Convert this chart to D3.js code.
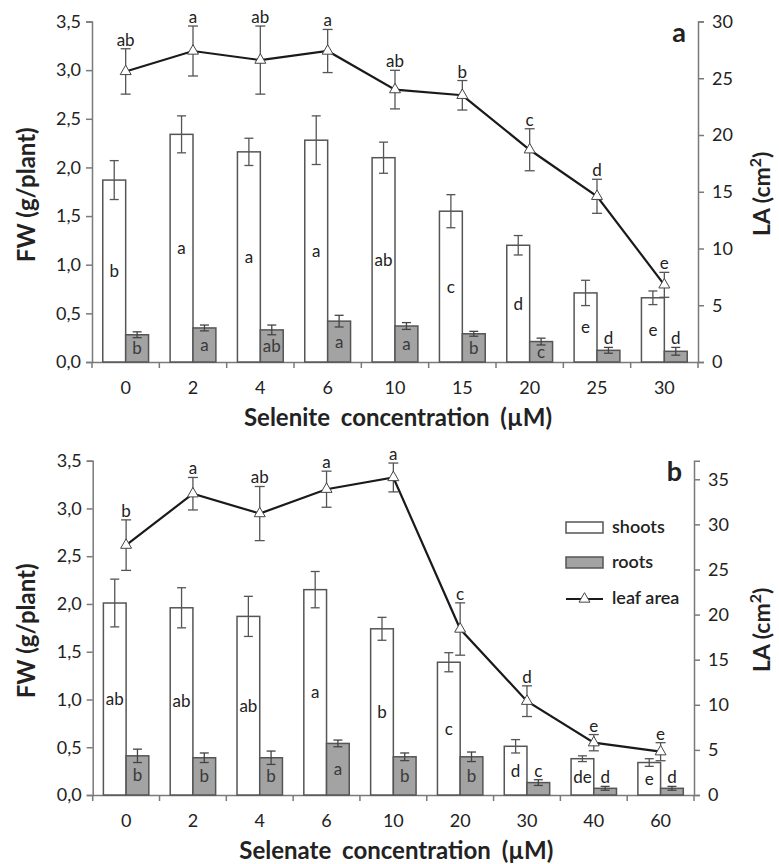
<!DOCTYPE html>
<html>
<head>
<meta charset="utf-8">
<script src="https://cdn.jsdelivr.net/npm/d3@7"></script>
<style>
  body { margin: 0; background: #fff; }
  text { font-family: Lato, "Open Sans", sans-serif; fill: #222; }
</style>
</head>
<body>
<div id="chart"></div>
<script>
// Panel a: selenite
const concA = ["0", "2", "4", "6", "10", "15", "20", "25", "30"];
const shootsA = [1.87, 2.34, 2.16, 2.28, 2.10, 1.55, 1.20, 0.71, 0.66];
const shootsErrA = [0.20, 0.19, 0.14, 0.25, 0.16, 0.17, 0.10, 0.13, 0.07];
const rootsA = [0.28, 0.35, 0.33, 0.42, 0.37, 0.29, 0.21, 0.12, 0.11];
const rootsErrA = [0.03, 0.03, 0.05, 0.06, 0.035, 0.025, 0.035, 0.03, 0.04];
const leafA = [25.6, 27.4, 26.6, 27.4, 24.0, 23.5, 18.7, 14.6, 6.8];
const leafErrA = [2.0, 2.2, 3.0, 1.9, 1.7, 1.3, 1.85, 1.5, 1.1];
const shootLetA = ["b", "a", "a", "a", "ab", "c", "d", "e", "e"];
const rootLetA = ["b", "a", "ab", "a", "a", "b", "c", "d", "d"];
const leafLetA = ["ab", "a", "ab", "a", "ab", "b", "c", "d", "e"];

// Panel b: selenate
const concB = ["0", "2", "4", "6", "10", "20", "30", "40", "60"];
const shootsB = [2.01, 1.96, 1.87, 2.15, 1.74, 1.39, 0.51, 0.38, 0.34];
const shootsErrB = [0.25, 0.21, 0.21, 0.19, 0.12, 0.10, 0.07, 0.03, 0.04];
const rootsB = [0.41, 0.39, 0.39, 0.54, 0.40, 0.40, 0.13, 0.07, 0.07];
const rootsErrB = [0.07, 0.05, 0.07, 0.035, 0.04, 0.05, 0.03, 0.02, 0.02];
const leafB = [27.7, 33.4, 31.2, 33.9, 35.2, 18.4, 10.4, 5.8, 4.8];
const leafErrB = [2.8, 1.8, 3.0, 2.0, 1.6, 2.9, 1.7, 0.9, 1.0];
const shootLetB = ["ab", "ab", "ab", "a", "b", "c", "d", "de", "e"];
const rootLetB = ["b", "b", "b", "a", "b", "b", "c", "d", "d"];
const leafLetB = ["b", "a", "ab", "a", "a", "c", "d", "e", "e"];

const fwTicks = [0, 0.5, 1, 1.5, 2, 2.5, 3, 3.5];
const laTicksA = [0, 5, 10, 15, 20, 25, 30];
const laTicksB = [0, 5, 10, 15, 20, 25, 30, 35];
const legendItems = ["shoots", "roots", "leaf area"];

const W = 779, H = 864;
const axisColor = "#7a7a7a";
const rootFill = "#a3a3a3";
const fmt = d => d.toFixed(1).replace(".", ",");

const svg = d3.select("#chart").append("svg")
  .attr("width", W)
  .attr("height", H);
svg.append("rect").attr("width", W).attr("height", H).attr("fill", "#fff");

function drawPanel(p) {
  const g = svg.append("g");
  const x = d3.scaleBand().domain(p.conc).range([p.left, p.right]);
  const y = d3.scaleLinear().domain([0, 3.5]).range([p.bottom, p.top]);
  const y2 = d3.scaleLinear().domain([0, p.laMax]).range([p.bottom, p.top]);
  const bw = x.bandwidth() * 0.34;
  const cx = d => x(d) + x.bandwidth() / 2;

  const rows = p.conc.map((c, i) => ({
    c, s: p.shoots[i], se: p.shootsErr[i], r: p.roots[i], re: p.rootsErr[i],
    l: p.leaf[i], le: p.leafErr[i], sl: p.shootLet[i], rl: p.rootLet[i], ll: p.leafLet[i]
  }));

  // axes
  const ax = g.append("g")
    .attr("transform", `translate(0,${p.bottom})`)
    .call(d3.axisBottom(x).tickSize(0).tickPadding(19));
  ax.select(".domain").attr("stroke", axisColor).attr("stroke-width", 1.5);
  ax.selectAll("text").style("font-size", "18px");
  // tick marks between categories
  g.selectAll(".xt").data(p.conc)
    .enter().append("line")
    .attr("x1", d => x(d) + x.bandwidth())
    .attr("x2", d => x(d) + x.bandwidth())
    .attr("y1", p.bottom).attr("y2", p.bottom + 6)
    .attr("stroke", axisColor).attr("stroke-width", 1.5);
  g.append("line")
    .attr("x1", p.left).attr("x2", p.left)
    .attr("y1", p.bottom).attr("y2", p.bottom + 6)
    .attr("stroke", axisColor).attr("stroke-width", 1.5);

  const ayl = g.append("g")
    .attr("transform", `translate(${p.left},0)`)
    .call(d3.axisLeft(y).tickValues(fwTicks).tickFormat(fmt).tickSizeOuter(0).tickSize(6).tickPadding(5));
  ayl.selectAll("line, .domain").attr("stroke", axisColor).attr("stroke-width", 1.5);
  ayl.selectAll("text").style("font-size", "18px");

  const ayr = g.append("g")
    .attr("transform", `translate(${p.right},0)`)
    .call(d3.axisRight(y2).tickValues(p.laTicks).tickSizeOuter(0).tickSize(6).tickPadding(8));
  ayr.selectAll("line, .domain").attr("stroke", axisColor).attr("stroke-width", 1.5);
  ayr.selectAll("text").style("font-size", "18px");

  // bars
  g.selectAll(".shoot").data(rows).enter().append("rect")
    .attr("x", d => cx(d.c) - bw)
    .attr("y", d => y(d.s))
    .attr("width", bw)
    .attr("height", d => p.bottom - y(d.s))
    .attr("fill", "#fff").attr("stroke", "#555").attr("stroke-width", 1.5);
  g.selectAll(".root").data(rows).enter().append("rect")
    .attr("x", d => cx(d.c))
    .attr("y", d => y(d.r))
    .attr("width", bw)
    .attr("height", d => p.bottom - y(d.r))
    .attr("fill", rootFill).attr("stroke", "#555").attr("stroke-width", 1.5);

  function errBar(sel, xf, lo, hi, cap) {
    sel.append("line").attr("x1", xf).attr("x2", xf).attr("y1", lo).attr("y2", hi);
    sel.append("line").attr("x1", d => xf(d) - cap).attr("x2", d => xf(d) + cap).attr("y1", lo).attr("y2", lo);
    sel.append("line").attr("x1", d => xf(d) - cap).attr("x2", d => xf(d) + cap).attr("y1", hi).attr("y2", hi);
  }
  const eS = g.selectAll(".es").data(rows).enter().append("g").attr("stroke", "#555").attr("stroke-width", 1.3);
  errBar(eS, d => cx(d.c) - bw / 2, d => y(d.s - d.se), d => y(d.s + d.se), 4.5);
  const eR = g.selectAll(".er").data(rows).enter().append("g").attr("stroke", "#444").attr("stroke-width", 1.3);
  errBar(eR, d => cx(d.c) + bw / 2, d => y(d.r - d.re), d => y(d.r + d.re), 4.5);

  // bar letters
  g.selectAll(".sl").data(rows).enter().append("text")
    .attr("x", d => cx(d.c) - bw / 2)
    .attr("y", d => y(d.s / 2))
    .attr("dy", "0.35em")
    .attr("text-anchor", "middle")
    .style("font-size", "17px")
    .text(d => d.sl);
  g.selectAll(".rl").data(rows).enter().append("text")
    .attr("x", d => cx(d.c) + bw / 2)
    .attr("y", d => (p.bottom - y(d.r) < 15) ? y(d.r + d.re) - 3 : y(d.r / 2))
    .attr("dy", d => (p.bottom - y(d.r) < 15) ? "0" : "0.35em")
    .attr("text-anchor", "middle")
    .style("font-size", "17px")
    .style("fill", d => (p.bottom - y(d.r) < 15) ? "#222" : "#3a3a3a")
    .text(d => d.rl);

  // leaf area line
  const eL = g.selectAll(".el").data(rows).enter().append("g").attr("stroke", "#555").attr("stroke-width", 1.3);
  errBar(eL, d => cx(d.c), d => y2(d.l - d.le), d => y2(d.l + d.le), 5);
  g.append("path")
    .datum(rows)
    .attr("fill", "none")
    .attr("stroke", "#1a1a1a")
    .attr("stroke-width", 2.2)
    .attr("d", d3.line().x(d => cx(d.c)).y(d => y2(d.l)));
  g.selectAll(".tri").data(rows).enter().append("path")
    .attr("transform", d => `translate(${cx(d.c)},${y2(d.l)})`)
    .attr("d", d3.symbol().type(d3.symbolTriangle).size(52))
    .attr("fill", "#fff").attr("stroke", "#444").attr("stroke-width", 1);
  g.selectAll(".ll").data(rows).enter().append("text")
    .attr("x", d => cx(d.c))
    .attr("y", d => y2(d.l + d.le) - 3)
    .attr("text-anchor", "middle")
    .style("font-size", "17px")
    .text(d => d.ll);

  // titles
  g.append("text")
    .attr("x", (p.left + p.right) / 2 + 3)
    .attr("y", p.bottom + 64)
    .attr("text-anchor", "middle")
    .style("font-size", "24px").style("font-weight", "bold")
    .style("word-spacing", "5px")
    .text(p.xTitle);
  g.append("text")
    .attr("transform", `translate(35,${(p.top + p.bottom) / 2 + 3}) rotate(-90)`)
    .attr("text-anchor", "middle")
    .style("font-size", "24px").style("font-weight", "bold")
    .text("FW (g/plant)");
  const la = g.append("text")
    .attr("transform", `translate(770,${(p.top + p.bottom) / 2 + 2}) rotate(-90)`)
    .attr("text-anchor", "middle")
    .style("font-size", "23px").style("font-weight", "bold");
  la.append("tspan").text("LA (cm");
  la.append("tspan").attr("baseline-shift", "super").style("font-size", "16px").text("2");
  la.append("tspan").text(")");
  g.append("text")
    .attr("x", p.right - 12)
    .attr("y", p.top + p.labelDy)
    .attr("text-anchor", "end")
    .style("font-size", "27px").style("font-weight", "bold")
    .text(p.label);

  return { g, x, y };
}

drawPanel({
  conc: concA, shoots: shootsA, shootsErr: shootsErrA, roots: rootsA, rootsErr: rootsErrA,
  leaf: leafA, leafErr: leafErrA, shootLet: shootLetA, rootLet: rootLetA, leafLet: leafLetA,
  left: 92, right: 698, top: 21.5, bottom: 362, laMax: 30, laTicks: laTicksA,
  xTitle: "Selenite concentration (µM)", label: "a", labelDy: 20
});

drawPanel({
  conc: concB, shoots: shootsB, shootsErr: shootsErrB, roots: rootsB, rootsErr: rootsErrB,
  leaf: leafB, leafErr: leafErrB, shootLet: shootLetB, rootLet: rootLetB, leafLet: leafLetB,
  left: 92.7, right: 694, top: 460.7, bottom: 795, laMax: 37.06, laTicks: laTicksB,
  xTitle: "Selenate concentration (µM)", label: "b", labelDy: 20
});

// legend (panel b)
const leg = svg.append("g").attr("transform", "translate(566,522)");
leg.append("rect").attr("x", 0).attr("y", 0).attr("width", 37).attr("height", 11)
  .attr("fill", "#fff").attr("stroke", "#555").attr("stroke-width", 1.5);
leg.append("rect").attr("x", 0).attr("y", 35).attr("width", 37).attr("height", 11)
  .attr("fill", rootFill).attr("stroke", "#555").attr("stroke-width", 1.5);
leg.append("line").attr("x1", 0).attr("x2", 37).attr("y1", 77).attr("y2", 77)
  .attr("stroke", "#1a1a1a").attr("stroke-width", 2.2);
leg.append("path").attr("transform", "translate(18.5,77)")
  .attr("d", d3.symbol().type(d3.symbolTriangle).size(52))
  .attr("fill", "#fff").attr("stroke", "#444").attr("stroke-width", 1);
leg.selectAll(".lt").data(legendItems).enter().append("text")
  .attr("x", 46)
  .attr("y", (d, i) => [11, 46, 82][i])
  .style("font-size", "18px").style("font-weight", "600")
  .text(d => d);
</script>
</body>
</html>
